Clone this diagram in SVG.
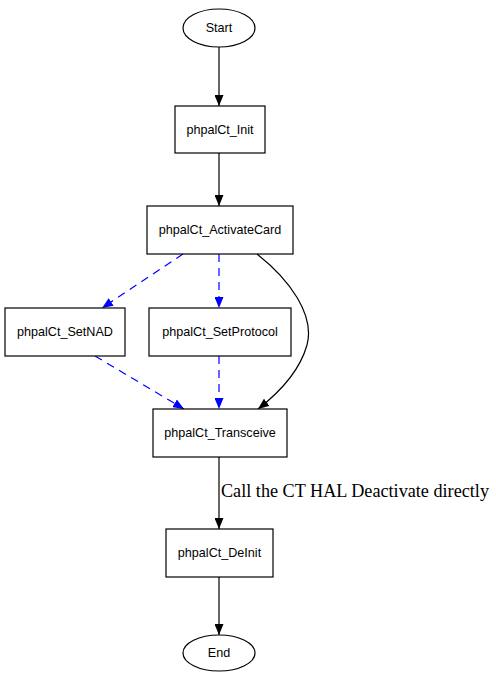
<svg xmlns="http://www.w3.org/2000/svg" width="496" height="683" viewBox="0 0 496 683">
<style>
.n{fill:#fff;stroke:#000;stroke-width:1.2}
.t{font-family:"Liberation Sans",Arial,sans-serif;font-size:12.6px;fill:#000;text-anchor:middle;dominant-baseline:central}
.e{fill:none;stroke:#000;stroke-width:1.2}
.d{fill:none;stroke:#0000ff;stroke-width:1.2;stroke-dasharray:8,6}
.l{font-family:"Liberation Serif","Times New Roman",serif;font-size:18px;fill:#000}
</style>
<defs>
<marker id="ab" viewBox="0 0 11 9" refX="11" refY="4.5" markerWidth="11" markerHeight="9" markerUnits="userSpaceOnUse" orient="auto"><path d="M0,0L11,4.5L0,9z" fill="#000"/></marker>
<marker id="au" viewBox="0 0 11 9" refX="11" refY="4.5" markerWidth="11" markerHeight="9" markerUnits="userSpaceOnUse" orient="auto"><path d="M0,0L11,4.5L0,9z" fill="#0000ff"/></marker>
</defs>
<g id="connectors">
<path class="e" d="M219,47L219,106" marker-end="url(#ab)"/>
<path class="e" d="M219,153L219,206" marker-end="url(#ab)"/>
<path class="d" d="M183,254L102,308" marker-end="url(#au)"/>
<path class="d" d="M219,254L219,308" marker-end="url(#au)"/>
<path class="e" d="M257,254C290,280 315,315 307,345C300,370 280,392 258,409" marker-end="url(#ab)"/>
<path class="d" d="M95,356L184,409" marker-end="url(#au)"/>
<path class="d" d="M219,356L219,409" marker-end="url(#au)"/>
<path class="e" d="M219,457L219,529" marker-end="url(#ab)"/>
<text class="l" x="221" y="497" textLength="268" lengthAdjust="spacingAndGlyphs">Call the CT HAL Deactivate directly</text>
<path class="e" d="M219,577L219,635" marker-end="url(#ab)"/>
</g>
<g id="start"><ellipse class="n" cx="219" cy="28" rx="36" ry="19"/><text class="t" x="219" y="28">Start</text></g>
<g id="init"><rect class="n" x="175" y="106" width="90" height="47"/><text class="t" x="220" y="129.5">phpalCt_Init</text></g>
<g id="activate"><rect class="n" x="147" y="206" width="146" height="48"/><text class="t" x="220" y="230">phpalCt_ActivateCard</text></g>
<g id="setnad"><rect class="n" x="5" y="308" width="120" height="48"/><text class="t" x="65" y="332">phpalCt_SetNAD</text></g>
<g id="setprotocol"><rect class="n" x="149" y="308" width="142" height="48"/><text class="t" x="220" y="332">phpalCt_SetProtocol</text></g>
<g id="transceive"><rect class="n" x="153" y="409" width="134" height="48"/><text class="t" x="220" y="433">phpalCt_Transceive</text></g>
<g id="deinit"><rect class="n" x="166" y="529" width="107" height="48"/><text class="t" x="219.5" y="553">phpalCt_DeInit</text></g>
<g id="end"><ellipse class="n" cx="219" cy="653" rx="36" ry="18"/><text class="t" x="219" y="653">End</text></g>
</svg>
